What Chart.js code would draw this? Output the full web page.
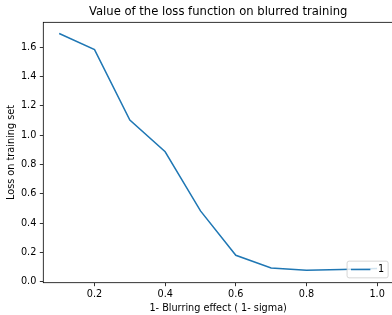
<!DOCTYPE html>
<html><head><meta charset="utf-8">
<script src="https://cdn.jsdelivr.net/npm/chart.js@4/dist/chart.umd.min.js"></script>
<style>
html,body{margin:0;padding:0;overflow:hidden;background:#fff;width:392px;height:315px}
#wrap{width:400px;height:315px;position:relative}
</style></head>
<body><div id="wrap"><canvas id="c" width="400" height="315"></canvas></div>
<script>
const sigmaValues = [0.1, 0.2, 0.3, 0.4, 0.5, 0.6, 0.7, 0.8, 0.9, 1.0];
const lossValues = [1.695, 1.585, 1.103, 0.887, 0.483, 0.180, 0.094, 0.078, 0.083, 0.090];
const xTickValues = [0.2, 0.4, 0.6, 0.8, 1.0];
const yTickValues = [0.0, 0.2, 0.4, 0.6, 0.8, 1.0, 1.2, 1.4, 1.6];
const seriesLabel = '1';
const chartTitle = 'Value of the loss function on blurred training';
const xAxisTitle = '1- Blurring effect ( 1- sigma)';
const yAxisTitle = 'Loss on training set';

const FONT = '"DejaVu Sans", "Liberation Sans", sans-serif';
const TICK_FS = 9.7;
Chart.defaults.color = '#000';
Chart.defaults.font.family = FONT;

const framePlugin = {
  id: 'mplFrame',
  afterDatasetsDraw(chart) {
    const ctx = chart.ctx, a = chart.chartArea;
    ctx.save();
    ctx.strokeStyle = '#000';
    ctx.lineWidth = 0.8;
    ctx.strokeRect(a.left, a.top, a.right - a.left, a.bottom - a.top);
    ctx.restore();
  }
};

const legendPlugin = {
  id: 'mplLegend',
  afterDraw(chart) {
    const ctx = chart.ctx, a = chart.chartArea, fs = TICK_FS;
    const ds = chart.data.datasets[0];
    ctx.save();
    ctx.font = fs + 'px ' + FONT;
    const tw = ctx.measureText(ds.label).width;
    const pad = 0.4 * fs, handle = 2 * fs, gap = 0.8 * fs, axpad = 0.5 * fs;
    const w = pad + handle + gap + tw + pad;
    const h = 16.7;
    const right = a.right - axpad, bottom = a.bottom - axpad;
    const left = right - w, top = bottom - h;
    const r = 2;
    ctx.beginPath();
    ctx.moveTo(left + r, top);
    ctx.lineTo(right - r, top);
    ctx.quadraticCurveTo(right, top, right, top + r);
    ctx.lineTo(right, bottom - r);
    ctx.quadraticCurveTo(right, bottom, right - r, bottom);
    ctx.lineTo(left + r, bottom);
    ctx.quadraticCurveTo(left, bottom, left, bottom - r);
    ctx.lineTo(left, top + r);
    ctx.quadraticCurveTo(left, top, left + r, top);
    ctx.closePath();
    ctx.fillStyle = 'rgba(255,255,255,0.8)';
    ctx.fill();
    ctx.strokeStyle = 'rgba(204,204,204,0.8)';
    ctx.lineWidth = 1;
    ctx.stroke();
    const cy = top + h / 2;
    ctx.beginPath();
    ctx.moveTo(left + pad, cy);
    ctx.lineTo(left + pad + handle, cy);
    ctx.strokeStyle = ds.borderColor;
    ctx.lineWidth = ds.borderWidth;
    ctx.stroke();
    ctx.fillStyle = '#000';
    ctx.textAlign = 'left';
    ctx.textBaseline = 'middle';
    ctx.fillText(ds.label, left + pad + handle + gap, cy);
    ctx.restore();
  }
};

new Chart(document.getElementById('c'), {
  type: 'line',
  data: {
    datasets: [{
      label: seriesLabel,
      data: sigmaValues.map((x, i) => ({ x: x, y: lossValues[i] })),
      borderColor: '#1f77b4',
      backgroundColor: '#1f77b4',
      borderWidth: 1.5,
      pointRadius: 0,
      tension: 0,
      fill: false
    }]
  },
  options: {
    responsive: false,
    animation: false,
    layout: { padding: { left: 0, right: 7, top: 0, bottom: 0 } },
    plugins: {
      legend: { display: false },
      tooltip: { enabled: false },
      title: {
        display: true,
        text: chartTitle,
        fullSize: false,
        color: '#000',
        font: { family: FONT, size: 11.6, weight: 'normal' },
        padding: { top: 5.5, bottom: 2.9 }
      }
    },
    scales: {
      x: {
        type: 'linear',
        min: 0.055,
        max: 1.045,
        offset: false,
        afterBuildTicks(scale) { scale.ticks = xTickValues.map(v => ({ value: v })); },
        afterFit(scale) { scale.height = 32.3; },
        ticks: {
          color: '#000',
          font: { family: FONT, size: TICK_FS },
          padding: 2.5,
          maxRotation: 0,
          autoSkip: false,
          callback: v => Number(v).toFixed(1)
        },
        grid: { drawOnChartArea: false, drawTicks: true, tickLength: 3.5, tickColor: '#000', tickWidth: 0.8 },
        border: { display: false },
        title: {
          display: true,
          text: xAxisTitle,
          color: '#000',
          font: { family: FONT, size: TICK_FS },
          padding: { top: 0, bottom: 1 }
        }
      },
      y: {
        type: 'linear',
        min: -0.007,
        max: 1.771,
        afterBuildTicks(scale) { scale.ticks = yTickValues.map(v => ({ value: v })); },
        afterFit(scale) { scale.width = 43.3; },
        ticks: {
          color: '#000',
          font: { family: FONT, size: TICK_FS },
          padding: 3.5,
          autoSkip: false,
          callback: v => Number(v).toFixed(1)
        },
        grid: { drawOnChartArea: false, drawTicks: true, tickLength: 3.5, tickColor: '#000', tickWidth: 0.8 },
        border: { display: false },
        title: {
          display: true,
          text: yAxisTitle,
          color: '#000',
          font: { family: FONT, size: TICK_FS },
          padding: { top: 5.9, bottom: 0 }
        }
      }
    }
  },
  plugins: [framePlugin, legendPlugin]
});
</script>
</body></html>
